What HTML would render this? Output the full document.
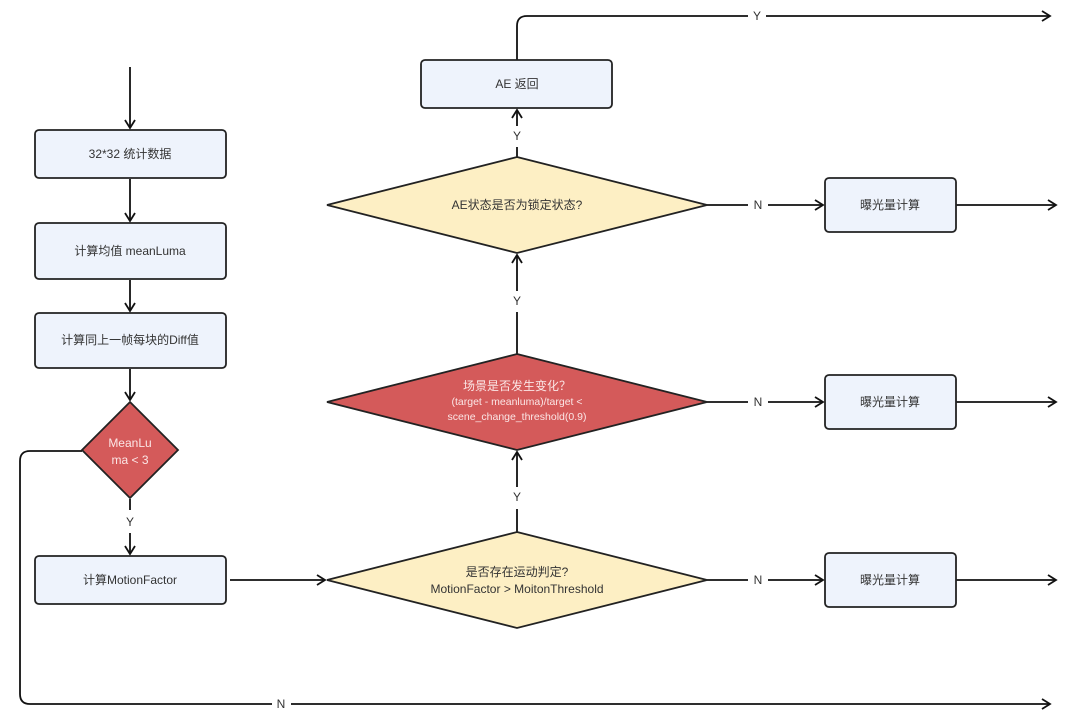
<!DOCTYPE html>
<html><head><meta charset="utf-8"><style>
html,body{margin:0;padding:0;background:#fff;}
svg text{font-family:"Liberation Sans","Noto Sans CJK SC",sans-serif;font-size:12px;text-anchor:middle;dominant-baseline:central;}
</style></head><body>
<svg width="1077" height="720" viewBox="0 0 1077 720" xmlns="http://www.w3.org/2000/svg">
<defs>
<marker id="a" markerWidth="12" markerHeight="12" refX="10" refY="6" orient="auto" markerUnits="userSpaceOnUse">
<path d="M2,1 L10,6 L2,11" fill="none" stroke="#111" stroke-width="1.8"/></marker>
</defs>
<g stroke="#111" stroke-width="1.8" fill="none">
<!-- left column -->
<line x1="130" y1="67" x2="130" y2="128" marker-end="url(#a)"/>
<line x1="130" y1="179" x2="130" y2="221" marker-end="url(#a)"/>
<line x1="130" y1="280" x2="130" y2="311" marker-end="url(#a)"/>
<line x1="130" y1="369" x2="130" y2="400" marker-end="url(#a)"/>
<line x1="130" y1="499" x2="130" y2="510"/>
<line x1="130" y1="533" x2="130" y2="554" marker-end="url(#a)"/>
<path d="M82,451 H30 Q20,451 20,461 V694 Q20,704 30,704 H272"/>
<line x1="291" y1="704" x2="1050" y2="704" marker-end="url(#a)"/>
<line x1="230" y1="580" x2="325" y2="580" marker-end="url(#a)"/>
<!-- middle vertical -->
<line x1="517" y1="532" x2="517" y2="509"/>
<line x1="517" y1="487" x2="517" y2="452" marker-end="url(#a)"/>
<line x1="517" y1="354" x2="517" y2="312"/>
<line x1="517" y1="291" x2="517" y2="255" marker-end="url(#a)"/>
<line x1="517" y1="157" x2="517" y2="147"/>
<line x1="517" y1="126" x2="517" y2="110" marker-end="url(#a)"/>
<path d="M517,60 V26 Q517,16 527,16 H748"/>
<line x1="766" y1="16" x2="1050" y2="16" marker-end="url(#a)"/>
<!-- right N -->
<line x1="707" y1="205" x2="748" y2="205"/><line x1="768" y1="205" x2="823" y2="205" marker-end="url(#a)"/>
<line x1="707" y1="402" x2="748" y2="402"/><line x1="768" y1="402" x2="823" y2="402" marker-end="url(#a)"/>
<line x1="707" y1="580" x2="748" y2="580"/><line x1="768" y1="580" x2="823" y2="580" marker-end="url(#a)"/>
<line x1="956" y1="205" x2="1056" y2="205" marker-end="url(#a)"/>
<line x1="956" y1="402" x2="1056" y2="402" marker-end="url(#a)"/>
<line x1="956" y1="580" x2="1056" y2="580" marker-end="url(#a)"/>
</g>
<g stroke="#222" stroke-width="1.8">
<rect x="35" y="130" width="191" height="48" rx="4" fill="#eef3fc"/>
<rect x="35" y="223" width="191" height="56" rx="4" fill="#eef3fc"/>
<rect x="35" y="313" width="191" height="55" rx="4" fill="#eef3fc"/>
<rect x="35" y="556" width="191" height="48" rx="4" fill="#eef3fc"/>
<rect x="421" y="60" width="191" height="48" rx="4" fill="#eef3fc"/>
<rect x="825" y="178" width="131" height="54" rx="4" fill="#eef3fc"/>
<rect x="825" y="375" width="131" height="54" rx="4" fill="#eef3fc"/>
<rect x="825" y="553" width="131" height="54" rx="4" fill="#eef3fc"/>
<polygon points="130,402 178,450 130,498 82,450" fill="#d45a5a"/>
<polygon points="517,157 707,205 517,253 327,205" fill="#fdefc4"/>
<polygon points="517,354 707,402 517,450 327,402" fill="#d45a5a"/>
<polygon points="517,532 707,580 517,628 327,580" fill="#fdefc4"/>
</g>
<g fill="#333">
<text x="130" y="154">32*32 统计数据</text>
<text x="130" y="251">计算均值 meanLuma</text>
<text x="130" y="340">计算同上一帧每块的Diff值</text>
<text x="130" y="580">计算MotionFactor</text>
<text x="517" y="84">AE 返回</text>
<text x="890" y="205">曝光量计算</text>
<text x="890" y="402">曝光量计算</text>
<text x="890" y="580">曝光量计算</text>
<text x="517" y="205">AE状态是否为锁定状态?</text>
<text x="517" y="572">是否存在运动判定?</text>
<text x="517" y="589">MotionFactor &gt; MoitonThreshold</text>
<text x="130" y="522">Y</text><text x="281" y="704">N</text>
<text x="517" y="497">Y</text><text x="517" y="301">Y</text><text x="517" y="136">Y</text>
<text x="757" y="16">Y</text>
<text x="758" y="205">N</text><text x="758" y="402">N</text><text x="758" y="580">N</text>
</g>
<g fill="#fbe6e6">
<text x="130" y="443">MeanLu</text>
<text x="130" y="460">ma &lt; 3</text>
<text x="517" y="386">场景是否发生变化？</text>
<text x="517" y="402" style="font-size:10.5px">(target - meanluma)/target   &lt;</text>
<text x="517" y="417" style="font-size:10.5px">scene_change_threshold(0.9)</text>
</g>
</svg>
</body></html>
